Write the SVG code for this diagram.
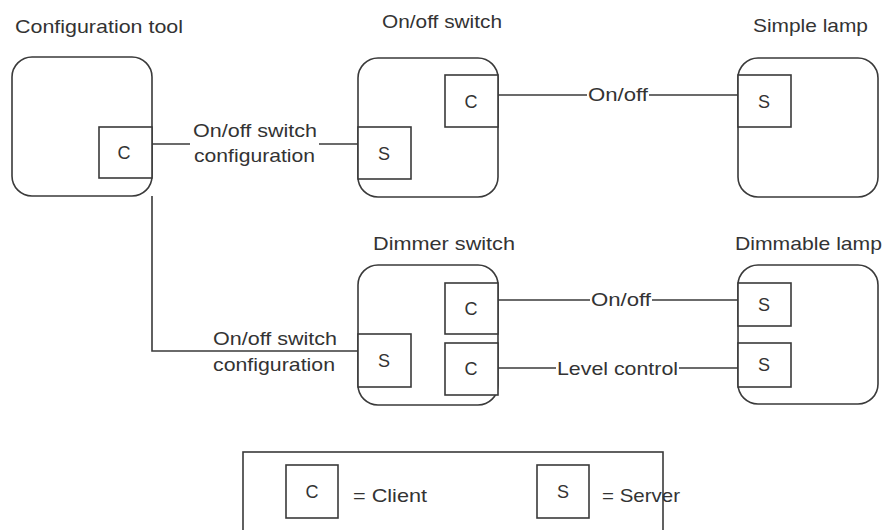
<svg xmlns="http://www.w3.org/2000/svg" width="885" height="530" viewBox="0 0 885 530">
  <style>
    .dev { fill: #ffffff; stroke: #3a3a3a; stroke-width: 1.6; }
    .ep { fill: #ffffff; stroke: #3a3a3a; stroke-width: 1.6; }
    .wire { fill: none; stroke: #3a3a3a; stroke-width: 1.6; }
    text { font-family: "Liberation Sans", Arial, sans-serif; font-size: 19px; fill: #333333; }
    .mid { text-anchor: middle; font-size: 18px; }
  </style>
  <rect x="0" y="0" width="885" height="530" fill="#ffffff"/>

  <!-- connectors -->
  <g id="connectors">
    <line class="wire" x1="152" y1="144" x2="190" y2="144"/>
    <line class="wire" x1="319" y1="144" x2="358" y2="144"/>
    <path class="wire" d="M152 196 V351 H358"/>
    <line class="wire" x1="498" y1="95" x2="587" y2="95"/>
    <line class="wire" x1="649" y1="95" x2="738" y2="95"/>
    <line class="wire" x1="498" y1="300" x2="590" y2="300"/>
    <line class="wire" x1="652" y1="300" x2="738" y2="300"/>
    <line class="wire" x1="498" y1="368" x2="556" y2="368"/>
    <line class="wire" x1="679" y1="368" x2="738" y2="368"/>
    <text x="193" y="137" textLength="124" lengthAdjust="spacingAndGlyphs">On/off switch</text>
    <text x="194" y="162" textLength="121" lengthAdjust="spacingAndGlyphs">configuration</text>
    <text x="588" y="101" textLength="60" lengthAdjust="spacingAndGlyphs">On/off</text>
    <text x="591" y="306" textLength="60" lengthAdjust="spacingAndGlyphs">On/off</text>
    <text x="557" y="375" textLength="121" lengthAdjust="spacingAndGlyphs">Level control</text>
    <text x="213" y="345" textLength="124" lengthAdjust="spacingAndGlyphs">On/off switch</text>
    <text x="213" y="371" textLength="122" lengthAdjust="spacingAndGlyphs">configuration</text>
  </g>

  <!-- configuration tool -->
  <g id="config-tool">
    <text x="15" y="33" textLength="168" lengthAdjust="spacingAndGlyphs">Configuration tool</text>
    <rect class="dev" x="12" y="57" width="140" height="139" rx="20"/>
    <rect class="ep" x="99" y="127" width="53" height="51"/>
    <text class="mid" x="124" y="159">C</text>
  </g>

  <!-- on/off switch -->
  <g id="onoff-switch">
    <text x="382" y="28" textLength="120" lengthAdjust="spacingAndGlyphs">On/off switch</text>
    <rect class="dev" x="358" y="58" width="140" height="139" rx="20"/>
    <rect class="ep" x="445" y="75" width="53" height="52"/>
    <text class="mid" x="471" y="108">C</text>
    <rect class="ep" x="358" y="127" width="53" height="52"/>
    <text class="mid" x="384" y="160">S</text>
  </g>

  <!-- simple lamp -->
  <g id="simple-lamp">
    <text x="753" y="32" textLength="115" lengthAdjust="spacingAndGlyphs">Simple lamp</text>
    <rect class="dev" x="738" y="58" width="140" height="139" rx="20"/>
    <rect class="ep" x="738" y="75" width="53" height="52"/>
    <text class="mid" x="764" y="108">S</text>
  </g>

  <!-- dimmer switch -->
  <g id="dimmer-switch">
    <text x="373" y="250" textLength="142" lengthAdjust="spacingAndGlyphs">Dimmer switch</text>
    <rect class="dev" x="358" y="265" width="140" height="140" rx="20"/>
    <rect class="ep" x="445" y="283" width="53" height="51"/>
    <text class="mid" x="471" y="315">C</text>
    <rect class="ep" x="445" y="343" width="53" height="52"/>
    <text class="mid" x="471" y="375">C</text>
    <rect class="ep" x="358" y="334" width="53" height="53"/>
    <text class="mid" x="384" y="367">S</text>
  </g>

  <!-- dimmable lamp -->
  <g id="dimmable-lamp">
    <text x="735" y="250" textLength="147" lengthAdjust="spacingAndGlyphs">Dimmable lamp</text>
    <rect class="dev" x="738" y="265" width="140" height="139" rx="20"/>
    <rect class="ep" x="738" y="283" width="53" height="43"/>
    <text class="mid" x="764" y="311">S</text>
    <rect class="ep" x="738" y="343" width="53" height="44"/>
    <text class="mid" x="764" y="371">S</text>
  </g>

  <!-- key -->
  <g id="legend">
    <rect class="dev" x="243" y="452" width="420" height="100"/>
    <rect class="ep" x="286" y="465" width="52" height="53"/>
    <text class="mid" x="312" y="498">C</text>
    <text x="353" y="502" textLength="74" lengthAdjust="spacingAndGlyphs">= Client</text>
    <rect class="ep" x="537" y="465" width="52" height="53"/>
    <text class="mid" x="563" y="498">S</text>
    <text x="602" y="502" textLength="78" lengthAdjust="spacingAndGlyphs">= Server</text>
  </g>
</svg>
